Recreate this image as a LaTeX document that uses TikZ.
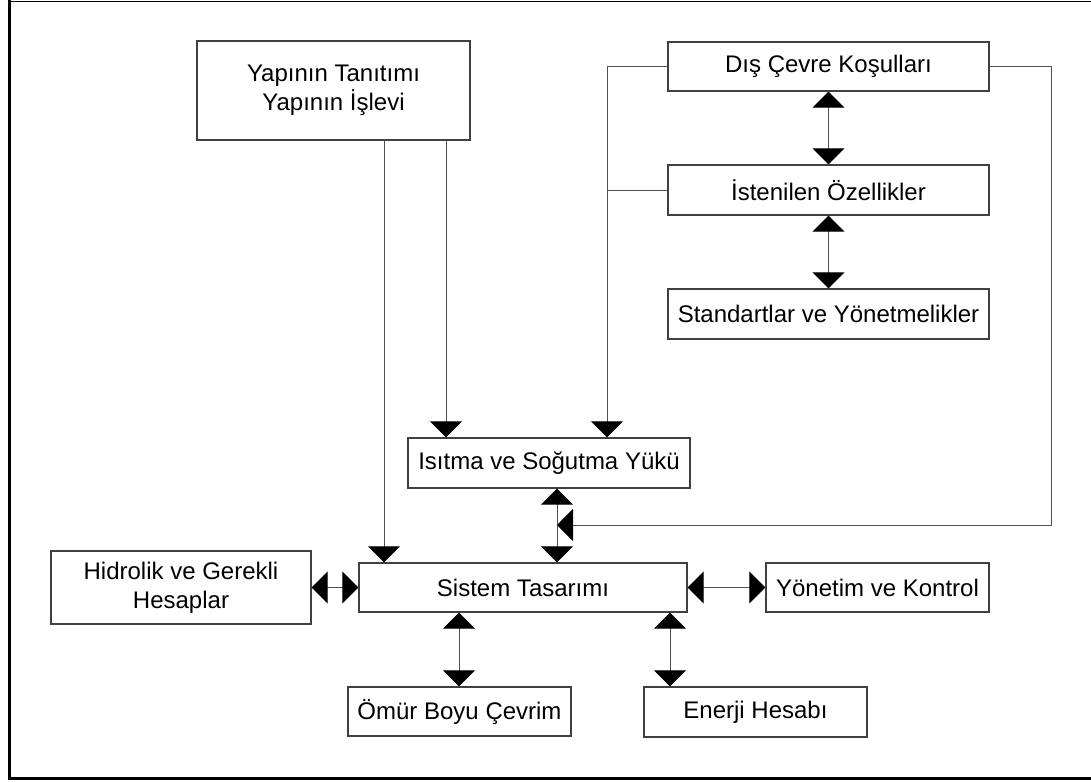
\documentclass[tikz,border=0pt]{standalone}
\usepackage{fontspec}
\setmainfont{Liberation Sans}
\usetikzlibrary{arrows.meta}
\definecolor{boxline}{HTML}{404040}
\definecolor{wire}{HTML}{505050}
\tikzset{
  blk/.style={draw=boxline, line width=1.3pt, fill=white, inner sep=0pt,
    align=center, font=\fontsize{24}{29}\selectfont, text=black},
  link/.style={draw=wire, line width=1pt},
  tip/.tip={Triangle[width=32pt,length=16pt]},
  one/.style={link, -{tip[black]}},
  two/.style={link, {tip[black]}-{tip[black]}},
}
\begin{document}
\begin{tikzpicture}[x=1pt,y=-1pt]
\useasboundingbox (0,0) rectangle (1091,781);
\fill[white] (0,0) rectangle (1091,781);
% outer frame (its right side lies past the page edge)
\draw[black, line width=1.5pt] (8,1.5) -- (1100,1.5);
\draw[black, line width=3pt] (9,0) -- (9,778) -- (1100,778);

% boxes
\node[blk, minimum width=273pt, minimum height=99pt] (yap) at (333.5,90.5) {Yapının Tanıtımı\\Yapının İşlevi};
\node[blk, minimum width=321pt, minimum height=49pt] (dis) at (828.5,66.5) {Dış Çevre Koşulları};
\node[blk, minimum width=321pt, minimum height=50pt] (ist) at (828.5,190) {İstenilen Özellikler};
\node[blk, minimum width=321pt, minimum height=50pt] (std) at (828.5,314) {Standartlar ve Yönetmelikler};
\node[blk, minimum width=282pt, minimum height=50pt] (isi) at (549,463) {Isıtma ve Soğutma Yükü};
\node[blk, minimum width=328pt, minimum height=49pt] (sis) at (523,587.5) {Sistem Tasarımı};
\node[blk, minimum width=260pt, minimum height=73pt] (hid) at (181,587.5) {Hidrolik ve Gerekli\\Hesaplar};
\node[blk, minimum width=223pt, minimum height=49pt] (yon) at (877.5,587.5) {Yönetim ve Kontrol};
\node[blk, minimum width=223pt, minimum height=49pt] (omr) at (459.5,711.5) {Ömür Boyu Çevrim};
\node[blk, minimum width=223pt, minimum height=50pt] (ene) at (755.5,712) {Enerji Hesabı};

% vertical routing columns
\coordinate (xa) at (384,0);
\coordinate (xb) at (446,0);
\coordinate (xc) at (607,0);
\coordinate (xd) at (1051,0);
\coordinate (xe) at (557,0);
\coordinate (xf) at (459,0);
\coordinate (xg) at (670,0);

% building description feeds load and system design
\draw[one] (xa |- yap.south) -- (xa |- sis.north);
\draw[one] (xb |- yap.south) -- (xb |- isi.north);

% outdoor conditions and requirements feed the load
\draw[link] (dis.west) -- (xc |- dis.west);
\draw[link] (ist.west) -- (xc |- ist.west);
\draw[one] (xc |- dis.west) -- (xc |- isi.north);

% chain on the right
\draw[two] (dis.south) -- (ist.north);
\draw[two] (ist.south) -- (std.north);

% load <-> system design, with the outdoor loop joining in
\draw[two] (xe |- isi.south) -- (xe |- sis.north);
\coordinate (join) at (557,525);
\draw[one] (dis.east) -- (xd |- dis.east) -- (xd |- join) -- (join);

% side and lower blocks
\draw[two] (hid.east) -- (sis.west);
\draw[two] (sis.east) -- (yon.west);
\draw[two] (xf |- sis.south) -- (xf |- omr.north);
\draw[two] (xg |- sis.south) -- (xg |- ene.north);
\end{tikzpicture}
\end{document}
